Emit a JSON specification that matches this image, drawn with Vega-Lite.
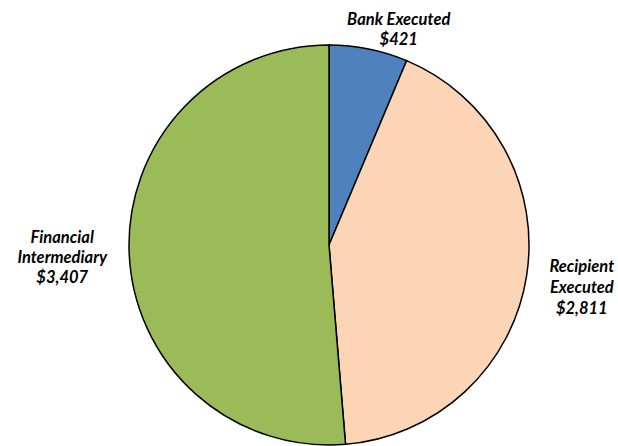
{
  "$schema": "https://vega.github.io/schema/vega-lite/v6.json",
  "autosize": "none",
  "width": 578,
  "height": 402,
  "padding": {"left": 40, "top": 44, "right": 0, "bottom": 0},
  "background": "white",
  "config": {"view": {"stroke": null}},
  "data": {
    "values": [
      {"idx": 1, "cat": "Bank Executed", "amount": 421, "label": "Bank Executed\n$421"},
      {"idx": 2, "cat": "Recipient Executed", "amount": 2811, "label": "Recipient\nExecuted\n$2,811"},
      {"idx": 3, "cat": "Financial Intermediary", "amount": 3407, "label": "Financial\nIntermediary\n$3,407"}
    ]
  },
  "encoding": {
    "theta": {"field": "amount", "type": "quantitative", "stack": true},
    "order": {"field": "idx", "type": "quantitative"}
  },
  "layer": [
    {
      "mark": {"type": "arc", "radius": 200, "stroke": "black", "strokeWidth": 1.5},
      "encoding": {
        "color": {
          "field": "cat",
          "type": "nominal",
          "scale": {
            "domain": ["Bank Executed", "Recipient Executed", "Financial Intermediary"],
            "range": ["#4F81BD", "#FBD5B5", "#9BBB59"]
          },
          "legend": null
        }
      }
    },
    {
      "mark": {"type": "text", "radius": 226, "dx": 25, "dy": -3, "font": "Lato", "fontSize": 16.5, "fontWeight": "bold", "fontStyle": "italic", "lineBreak": "\n", "lineHeight": 20, "align": "center", "baseline": "middle", "color": "black"},
      "encoding": {
        "text": {"condition": {"test": "datum.idx === 1", "field": "label"}, "value": ""}
      }
    },
    {
      "mark": {"type": "text", "radius": 256, "dy": -18, "font": "Lato", "fontSize": 16.5, "fontWeight": "bold", "fontStyle": "italic", "lineBreak": "\n", "lineHeight": 21, "align": "center", "baseline": "middle", "color": "black"},
      "encoding": {
        "text": {"condition": {"test": "datum.idx === 2", "field": "label"}, "value": ""}
      }
    },
    {
      "mark": {"type": "text", "radius": 267, "dy": -18, "font": "Lato", "fontSize": 16.5, "fontWeight": "bold", "fontStyle": "italic", "lineBreak": "\n", "lineHeight": 20, "align": "center", "baseline": "middle", "color": "black"},
      "encoding": {
        "text": {"condition": {"test": "datum.idx === 3", "field": "label"}, "value": ""}
      }
    }
  ]
}
